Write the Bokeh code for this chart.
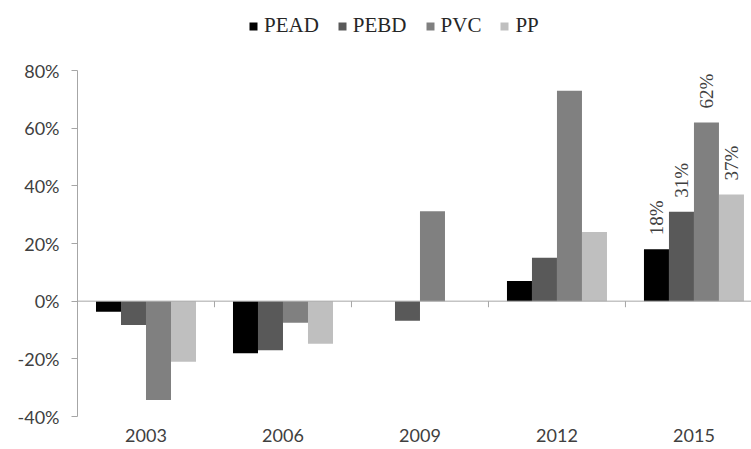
from bokeh.plotting import figure
from bokeh.models import (ColumnDataSource, FixedTicker, PrintfTickFormatter, Span,
                          LabelSet, Range1d)
from bokeh.embed import file_html
from bokeh.resources import INLINE

categories = ["2003", "2006", "2009", "2012", "2015"]
series = ["PEAD", "PEBD", "PVC", "PP"]
colors = ["#000000", "#595959", "#808080", "#bfbfbf"]
pead = [-3.7, -18.1, 0.0, 7.0, 18.0]
pebd = [-8.3, -17.0, -6.8, 15.1, 31.0]
pvc = [-34.3, -7.5, 31.2, 73.0, 62.0]
pp = [-21.0, -14.8, 0.0, 24.0, 37.0]
values = [pead, pebd, pvc, pp]
y_ticks = [-40, -20, 0, 20, 40, 60, 80]

bar_w = 0.1825
xs = list(range(len(categories)))

p = figure(width=751, height=449, output_backend="svg", toolbar_location=None,
           x_range=Range1d(-0.5, 4.42), y_range=Range1d(-40, 100.81),
           min_border_left=77, min_border_right=0, min_border_top=10, min_border_bottom=33)
p.outline_line_color = None
p.grid.visible = False
p.background_fill_color = "white"

label_x, label_y, label_t = [], [], []
for k, (name, col, vals) in enumerate(zip(series, colors, values)):
    off = (k - 1.5) * bar_w
    src = ColumnDataSource(dict(x=[x + off for x in xs], top=vals))
    p.vbar(x="x", top="top", bottom=0, width=bar_w, source=src, fill_color=col,
           line_color=None, legend_label=name)
    label_x.append(xs[-1] + off)
    label_y.append(vals[-1])
    label_t.append(f"{vals[-1]:.0f}%")

p.add_layout(Span(location=0, dimension="width", line_color="#a6a6a6", line_width=1))
bx = [x + 0.5 for x in xs[:-1]]
p.segment(x0=bx, x1=bx, y0=[0] * len(bx), y1=[-2.1] * len(bx), line_color="#a6a6a6", line_width=1)

lsrc = ColumnDataSource(dict(x=label_x, y=label_y, t=label_t))
p.add_layout(LabelSet(x="x", y="y", text="t", source=lsrc, angle=1.5708, text_align="left",
                      text_baseline="middle", y_offset=14, text_font="Liberation Serif",
                      text_font_size="19px", text_color="#404040"))

yax = p.yaxis[0]
yax.ticker = FixedTicker(ticks=y_ticks)
yax.formatter = PrintfTickFormatter(format="%d%%")
yax.bounds = (-40, 80)
yax.axis_line_color = "#a6a6a6"
yax.major_tick_line_color = "#a6a6a6"
yax.major_tick_in = 0
yax.major_tick_out = 6
yax.minor_tick_line_color = None
yax.major_label_standoff = 12
yax.major_label_text_font = "Lato"
yax.major_label_text_font_size = "18px"
yax.major_label_text_color = "#404040"

xax = p.xaxis[0]
xax.ticker = FixedTicker(ticks=xs)
xax.major_label_overrides = {i: c for i, c in enumerate(categories)}
xax.axis_line_color = None
xax.major_tick_line_color = None
xax.minor_tick_line_color = None
xax.major_tick_out = 0
xax.major_tick_in = 0
xax.major_label_standoff = 12
xax.major_label_text_font = "Lato"
xax.major_label_text_font_size = "18px"
xax.major_label_text_color = "#404040"

lg = p.legend[0]
lg.orientation = "horizontal"
lg.location = (171, 378)
lg.padding = 0
lg.spacing = 18
lg.border_line_color = None
lg.background_fill_alpha = 0
lg.glyph_width = 10
lg.glyph_height = 10
lg.label_standoff = 6
lg.label_text_font = "Liberation Serif"
lg.label_text_font_size = "21px"
lg.label_text_color = "#262626"

open("out.html", "w").write(file_html(p, INLINE))
